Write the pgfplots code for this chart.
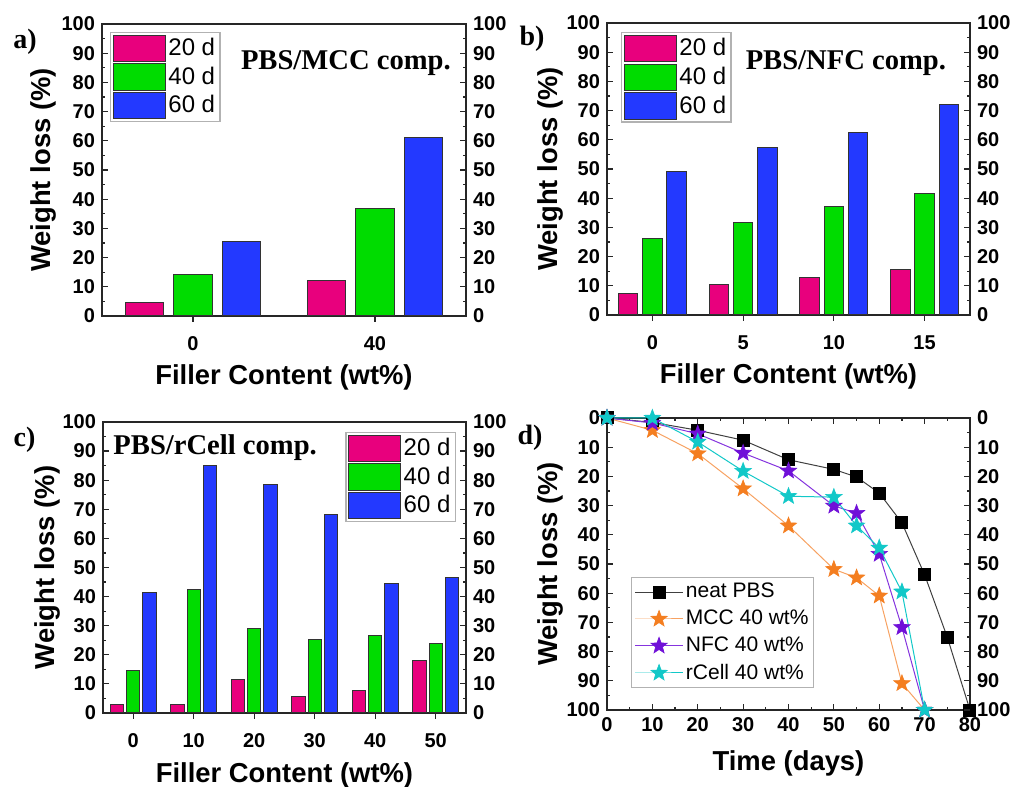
\documentclass[border=0pt]{standalone}
\usepackage{pgfplots}
\usepackage{pgfplotstable}
\pgfplotsset{compat=1.18}
\usepackage{fontspec}
\setmainfont{Liberation Sans}
\newfontfamily\timesfont{Liberation Serif}
\usetikzlibrary{plotmarks}

\definecolor{cpink}{HTML}{E8007D}
\definecolor{cgreen}{HTML}{00DC00}
\definecolor{cblue}{HTML}{2339FF}
\definecolor{corange}{HTML}{F47E20}
\definecolor{corangel}{HTML}{F7A262}
\definecolor{cpurple}{HTML}{7010D8}
\definecolor{ccyan}{HTML}{12C8C8}

\pgfdeclareplotmark{fstar}{%
  \pgfpathmoveto{\pgfpointpolar{90}{\pgfplotmarksize}}%
  \pgfpathlineto{\pgfpointpolar{126}{0.42\pgfplotmarksize}}%
  \pgfpathlineto{\pgfpointpolar{162}{\pgfplotmarksize}}%
  \pgfpathlineto{\pgfpointpolar{198}{0.42\pgfplotmarksize}}%
  \pgfpathlineto{\pgfpointpolar{234}{\pgfplotmarksize}}%
  \pgfpathlineto{\pgfpointpolar{270}{0.42\pgfplotmarksize}}%
  \pgfpathlineto{\pgfpointpolar{306}{\pgfplotmarksize}}%
  \pgfpathlineto{\pgfpointpolar{342}{0.42\pgfplotmarksize}}%
  \pgfpathlineto{\pgfpointpolar{18}{\pgfplotmarksize}}%
  \pgfpathlineto{\pgfpointpolar{54}{0.42\pgfplotmarksize}}%
  \pgfpathclose
  \pgfusepathqfillstroke
}

\pgfplotstableread{
x  a    b    c
0  4.6  14.2 25.5
1  12.1 36.8 61.0
}\tabA
\pgfplotstableread{
x  a    b    c
0  7.3  26.2 49.0
1  10.3 31.7 57.4
2  12.8 37.3 62.4
3  15.5 41.7 72.1
}\tabB
\pgfplotstableread{
x  a    b    c
0  3.0  14.7 41.5
1  3.0  42.5 85.0
2  11.5 29.1 78.4
3  5.5  25.2 68.2
4  7.9  26.7 44.4
5  17.9 23.8 46.5
}\tabC

\pgfplotsset{
  base/.style={scale only axis, width=182pt, height=146pt, anchor=south west,
    /pgf/number format/assume math mode=true,
    tick label style={font=\bfseries\fontsize{10}{12}\selectfont},
    label style={font=\bfseries\fontsize{13.7}{16}\selectfont},
    axis line style={line width=0.7pt, black!85},
    every tick/.style={black!85, line width=0.6pt},
    major tick length=2.8pt, minor tick length=1.6pt,
    ymin=0, ymax=100, ytick={0,10,...,100}, minor y tick num=1,
  },
  barax/.style={base, ybar, xtick={0,...,#1},
    xtick pos=left, xtick align=outside,
    ytick pos=both, ytick align=inside, yticklabel pos=left,
    xmin=-0.5, xmax=#1+0.5,
    ylabel={Weight loss (\%)}, xlabel={Filler Content (wt\%)},
    xticklabel style={yshift=-4pt},
    legend cell align=left,
    legend image code/.code={\draw[##1] (0pt,-6.6pt) rectangle (26pt,6.6pt);},
    legend style={draw=black!30, line width=0.6pt, font=\fontsize{12}{13}\selectfont,
      inner sep=1.2pt, row sep=0.6pt, nodes={inner sep=1.2pt}},
  },
  rightax/.style={base, hide x axis, xmin=0, xmax=1,
    ytick pos=right, yticklabel pos=right, ytick align=inside,
    axis line style={draw=none}},
  b1/.style={fill=cpink, draw=black!80, line width=0.5pt, bar shift=-0.267, bar width=#1},
  b2/.style={fill=cgreen, draw=black!80, line width=0.5pt, bar shift=0, bar width=#1},
  b3/.style={fill=cblue, draw=black!80, line width=0.5pt, bar shift=0.267, bar width=#1},
  lineleg/.style={legend image code/.code={\draw[mark repeat=2,mark phase=2,##1] plot coordinates {(0pt,0pt) (12pt,0pt) (24pt,0pt)};}},
}

\begin{document}
\begin{tikzpicture}
\useasboundingbox (0,0) rectangle (506.5pt,393.5pt);

% ---- panel a
\begin{axis}[barax=1, at={(51pt,235.5pt)}, xticklabels={0,40},
  xlabel style={at={(axis description cs:0.5,-0.209)}, anchor=center},
  ylabel style={at={(axis description cs:-0.162,0.5)}, anchor=center},
  legend style={at={(rel axis cs:0.022,0.973)}, anchor=north west}]
\addplot[b1=0.212] table[x=x,y=a]{\tabA};
\addplot[b2=0.212] table[x=x,y=b]{\tabA};
\addplot[b3=0.212] table[x=x,y=c]{\tabA};
\legend{20 d,40 d,60 d}
\node[font=\timesfont\bfseries\fontsize{14.3}{16}\selectfont] at (rel axis cs:0.670,0.866) {PBS/MCC comp.};
\end{axis}
\begin{axis}[rightax, at={(51pt,235.5pt)}]
\end{axis}

% ---- panel b
\begin{axis}[barax=3, at={(303.5pt,236pt)}, width=181.5pt, xticklabels={0,5,10,15},
  xlabel style={at={(axis description cs:0.5,-0.212)}, anchor=center},
  ylabel style={at={(axis description cs:-0.157,0.5)}, anchor=center},
  legend style={at={(rel axis cs:0.0386,0.969)}, anchor=north west}]
\addplot[b1=0.213] table[x=x,y=a]{\tabB};
\addplot[b2=0.213] table[x=x,y=b]{\tabB};
\addplot[b3=0.213] table[x=x,y=c]{\tabB};
\legend{20 d,40 d,60 d}
\node[font=\timesfont\bfseries\fontsize{14.3}{16}\selectfont] at (rel axis cs:0.658,0.863) {PBS/NFC comp.};
\end{axis}
\begin{axis}[rightax, at={(303.5pt,236pt)}, width=181.5pt]
\end{axis}

% ---- panel c
\begin{axis}[barax=5, at={(51.5pt,37pt)}, width=181.5pt, height=145.5pt, xticklabels={0,10,20,30,40,50},
  xlabel style={at={(axis description cs:0.5,-0.213)}, anchor=center},
  ylabel style={at={(axis description cs:-0.154,0.5)}, anchor=center},
  legend style={at={(rel axis cs:0.972,0.966)}, anchor=north east}]
\addplot[b1=0.22] table[x=x,y=a]{\tabC};
\addplot[b2=0.22] table[x=x,y=b]{\tabC};
\addplot[b3=0.22] table[x=x,y=c]{\tabC};
\legend{20 d,40 d,60 d}
\node[font=\timesfont\bfseries\fontsize{14.3}{16}\selectfont] at (rel axis cs:0.309,0.911) {PBS/rCell comp.};
\end{axis}
\begin{axis}[rightax, at={(51.5pt,37pt)}, width=181.5pt, height=145.5pt]
\end{axis}

% ---- panel d
\begin{axis}[base, lineleg, at={(303.5pt,38.5pt)}, width=181.5pt, y dir=reverse,
  xmin=0, xmax=80, xtick={0,10,...,80}, minor x tick num=1,
  tick align=inside, xtick pos=both, ytick pos=both, yticklabel pos=left, xticklabel pos=left,
  clip=false,
  xlabel={Time (days)}, ylabel={Weight loss (\%)},
  xlabel style={at={(axis description cs:0.5,-0.182)}, anchor=center},
  ylabel style={at={(axis description cs:-0.157,0.5)}, anchor=center},
  legend cell align=left,
  legend style={at={(rel axis cs:0.066,0.075)}, anchor=south west, draw=black!30, line width=0.6pt,
    font=\fontsize{10.5}{12}\selectfont, inner sep=1.5pt, row sep=2.2pt, nodes={inner sep=1.2pt}}]
\addplot[black!75, line width=0.5pt, mark=square*, mark size=3pt, mark options={fill=black, draw=black, solid}]
 coordinates {(0,0) (10,1.5) (20,4.2) (30,7.6) (40,14.3) (50,17.6) (55,20.2) (60,25.7) (65,35.9) (70,53.7) (75,75.1) (80,100)};
\addplot[corangel, line width=0.5pt, mark=fstar, mark size=4.3pt, mark options={fill=corange, draw=corange, line width=0.3pt, solid}]
 coordinates {(0,0) (10,4.2) (20,12.2) (30,24.2) (40,36.9) (50,51.8) (55,54.7) (60,60.9) (65,90.9) (70,100)};
\addplot[cpurple!85, line width=0.5pt, mark=fstar, mark size=4.3pt, mark options={fill=cpurple, draw=cpurple, line width=0.3pt, solid}]
 coordinates {(0,0) (10,1.7) (20,5.4) (30,12.0) (40,18.1) (50,30.1) (55,32.6) (60,46.6) (65,71.7) (70,100)};
\addplot[ccyan, line width=0.5pt, mark=fstar, mark size=4.3pt, mark options={fill=ccyan, draw=ccyan, line width=0.3pt, solid}]
 coordinates {(0,0) (10,0) (20,8.2) (30,18.2) (40,26.8) (50,27.1) (55,36.9) (60,44.5) (65,59.5) (70,100)};
\legend{neat PBS,MCC 40 wt\%,NFC 40 wt\%,rCell 40 wt\%}
\end{axis}
\begin{axis}[rightax, at={(303.5pt,38.5pt)}, width=181.5pt, y dir=reverse]
\end{axis}

% panel labels
\begin{scope}[every node/.style={font=\timesfont\bfseries\fontsize{14}{16}\selectfont}]
\node at (12.5pt,372.5pt) {a)};
\node at (266pt,374pt) {b)};
\node at (12.25pt,173.5pt) {c)};
\node at (265pt,174.5pt) {d)};
\end{scope}
\end{tikzpicture}
\end{document}
